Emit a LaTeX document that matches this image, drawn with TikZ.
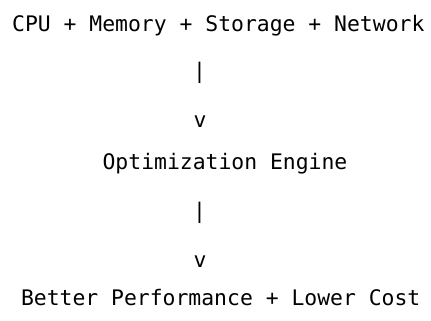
\documentclass[tikz,border=0pt]{standalone}
\usepackage{fontspec}
\newfontfamily\monofam{DejaVu Sans Mono}
\begin{document}
\begin{tikzpicture}[x=1pt,y=-1pt,
  txt/.style={inner sep=0pt, outer sep=0pt, font=\monofam\fontsize{21.4}{24}\selectfont, text=black, anchor=base}]
\useasboundingbox[fill=white] (0,0) rectangle (431,321);
\node[txt] (src) at (218.3,32) {CPU + Memory + Storage + Network};
\node[txt, anchor=center] (bar1) at (199.5,72.5) {|};
\node[txt] (arr1) at (200,127) {v};
\node[txt] (eng) at (225,169) {Optimization Engine};
\node[txt, anchor=center] (bar2) at (199.5,212.5) {|};
\node[txt] (arr2) at (200,267) {v};
\node[txt] (out) at (220.7,305) {Better Performance + Lower Cost};
\end{tikzpicture}
\end{document}
